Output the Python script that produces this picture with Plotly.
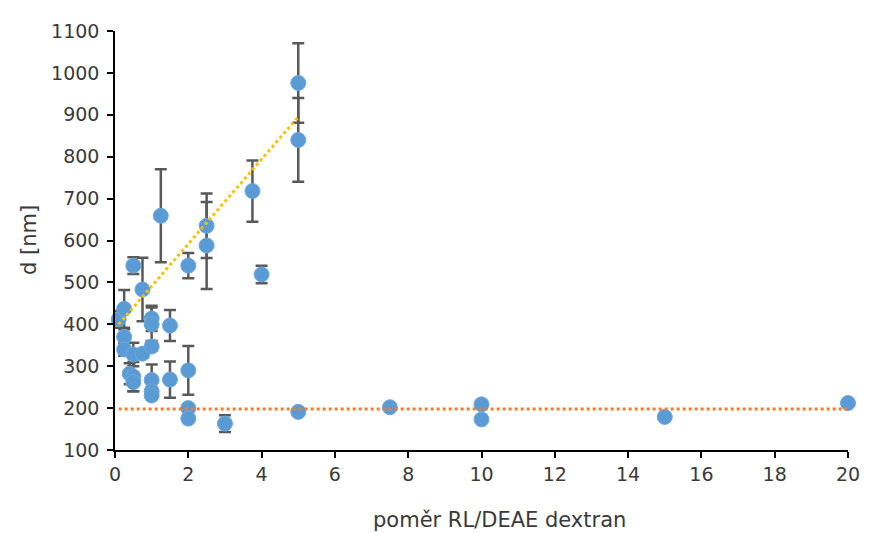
import plotly.graph_objects as go

# data
ratio = [0.1, 0.25, 0.25, 0.25, 0.4, 0.5, 0.5, 0.5, 0.5, 0.75, 0.75,
         1.0, 1.0, 1.0, 1.0, 1.0, 1.0, 1.25, 1.5, 1.5, 2.0, 2.0, 2.0, 2.0,
         2.5, 2.5, 3.0, 3.75, 4.0, 5.0, 5.0, 5.0, 7.5, 10, 10, 15, 20]
diameter = [412, 437, 370, 340, 282, 540, 328, 275, 262, 483, 330,
            414, 400, 347, 267, 240, 230, 659, 397, 268, 540, 290, 200, 175,
            635, 588, 163, 718, 519, 976, 840, 191, 202, 209, 173, 179, 212]
error = [20, 45, 18, 15, 25, 20, 28, 35, 22, 76, 10,
         30, 40, 10, 37, 10, 8, 111, 37, 43, 30, 58, 5, 5,
         77, 104, 20, 73, 21, 95, 100, 0, 0, 0, 0, 0, 0]

trend_up_x = [0.1, 5.0]
trend_up_y = [400, 895]
trend_flat_x = [0.1, 20.0]
trend_flat_y = [198, 198]

x_ticks = [0, 2, 4, 6, 8, 10, 12, 14, 16, 18, 20]
y_ticks = [100, 200, 300, 400, 500, 600, 700, 800, 900, 1000, 1100]

FONT = "DejaVu Sans"
TXT = "#3a3a3a"

fig = go.Figure()
fig.add_trace(go.Scatter(
    x=ratio, y=diameter, mode="markers",
    marker=dict(size=15, color="#5B9BD5", line=dict(width=1, color="#6FA8DC")),
    error_y=dict(type="data", array=error, visible=True, color="#595959",
                 thickness=2.5, width=6),
    cliponaxis=False, showlegend=False,
))
fig.add_trace(go.Scatter(
    x=trend_up_x, y=trend_up_y, mode="lines",
    line=dict(color="#FFC000", width=3, dash="dot"),
    cliponaxis=False, showlegend=False,
))
fig.add_trace(go.Scatter(
    x=trend_flat_x, y=trend_flat_y, mode="lines",
    line=dict(color="#ED7D31", width=3, dash="dot"),
    cliponaxis=False, showlegend=False,
))

axis_common = dict(ticks="outside", ticklen=6, tickwidth=1.5, tickcolor="black",
                   showline=True, linecolor="black", linewidth=1.5,
                   showgrid=False, zeroline=False,
                   tickfont=dict(family=FONT, size=19, color=TXT))

fig.update_layout(
    width=869, height=525,
    margin=dict(l=107, r=29, t=12, b=83),
    paper_bgcolor="white", plot_bgcolor="white",
    font=dict(family=FONT, size=19, color=TXT),
    xaxis=dict(range=[0, 20], tickvals=x_ticks, **axis_common),
    yaxis=dict(range=[100, 1100], tickvals=y_ticks, ticklabelstandoff=4,
               **axis_common),
    annotations=[
        dict(text="poměr RL/DEAE dextran", xref="paper", yref="paper",
             x=0.524, y=-0.167, xanchor="center", yanchor="middle",
             showarrow=False, font=dict(family=FONT, size=21, color=TXT)),
        dict(text="d [nm]", xref="paper", yref="paper", textangle=-90,
             x=-0.118, y=0.5, xanchor="center", yanchor="middle",
             showarrow=False, font=dict(family=FONT, size=21, color=TXT)),
    ],
)

fig.write_html("out.html")
